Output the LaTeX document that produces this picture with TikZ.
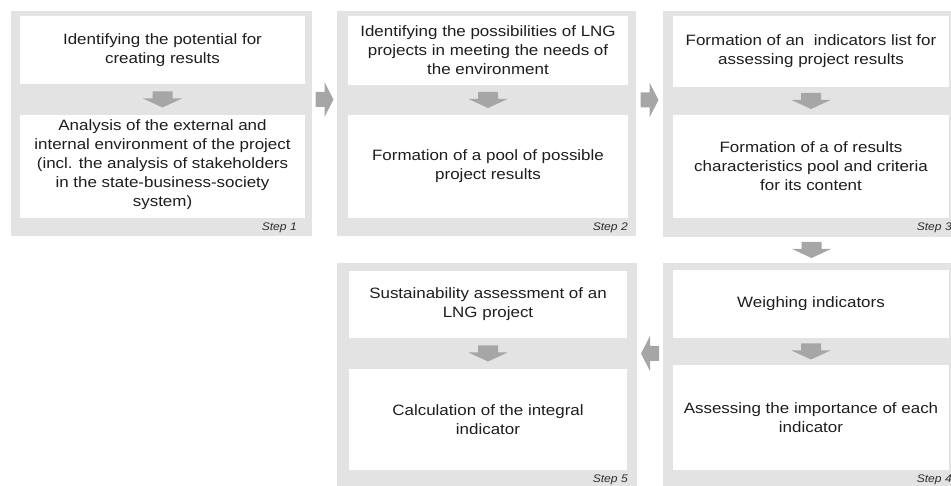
\documentclass[tikz,border=0pt]{standalone}
\usepackage{fontspec}
\setmainfont{Liberation Sans}
\usetikzlibrary{calc}
\definecolor{bandgray}{HTML}{E3E3E3}
\definecolor{arrowgray}{HTML}{A6A6A6}
\definecolor{inktext}{HTML}{1E1E1E}
\definecolor{labelgray}{HTML}{2E2E2E}

\begin{document}
\begin{tikzpicture}[x=1pt,y=-1pt,
  stage/.style={fill=bandgray, inner sep=0pt, outer sep=0pt, anchor=north west},
  card/.style={fill=white, inner sep=0pt, outer sep=0pt, anchor=north west},
  cardtext/.style={align=center, text=inktext, inner sep=0pt, xscale=1.13,
    transform shape, font=\fontsize{15}{19}\selectfont},
  steplabel/.style={anchor=base east, inner sep=0pt, xscale=1.1, transform shape,
    text=labelgray, font=\fontsize{11}{13}\selectfont\itshape},
  pics/dnarrow/.style={code={\fill[arrowgray] (-10,-8) -- (10,-8) -- (10,-1) -- (19.5,-1)
      -- (0,8) -- (-19.5,-1) -- (-10,-1) -- cycle;}},
  pics/rtarrow/.style={code={\fill[arrowgray] (-9,-7.5) -- (0,-7.5) -- (0,-17.5) -- (9,0)
      -- (0,17.5) -- (0,7.5) -- (-9,7.5) -- cycle;}},
  pics/ltarrow/.style={code={\fill[arrowgray] (9,-7.5) -- (0,-7.5) -- (0,-17.5) -- (-9,0)
      -- (0,17.5) -- (0,7.5) -- (9,7.5) -- cycle;}},
]
\useasboundingbox (0,0) rectangle (951,486);
\clip (0,0) rectangle (951,486);

% Step frames
\node[stage, minimum width=301pt, minimum height=225pt] (s1) at (11,11) {};
\node[stage, minimum width=299pt, minimum height=225pt] (s2) at (337,11) {};
\node[stage, minimum width=297pt, minimum height=226pt] (s3) at (663,11) {};
\node[stage, minimum width=297pt, minimum height=230pt] (s4) at (663,263) {};
\node[stage, minimum width=300pt, minimum height=230pt] (s5) at (337,263) {};

% White cards inside each step
\node[card, minimum width=285pt, minimum height=68pt]  (s1a) at (20,16) {};
\node[card, minimum width=285pt, minimum height=103pt] (s1b) at (20,115) {};
\node[card, minimum width=280pt, minimum height=69pt]  (s2a) at (348,16) {};
\node[card, minimum width=280pt, minimum height=103pt] (s2b) at (348,115) {};
\node[card, minimum width=276pt, minimum height=71pt]  (s3a) at (673,16) {};
\node[card, minimum width=276pt, minimum height=103pt] (s3b) at (673,115) {};
\node[card, minimum width=276pt, minimum height=68pt]  (s4a) at (673,270) {};
\node[card, minimum width=276pt, minimum height=105pt] (s4b) at (673,365) {};
\node[card, minimum width=278pt, minimum height=67pt]  (s5a) at (349,271) {};
\node[card, minimum width=278pt, minimum height=101pt] (s5b) at (349,369) {};

% Card texts
\node[cardtext] (t1a) at (s1a.center) {Identifying the potential for\\creating results};
\node[cardtext] (t1b) at ([yshift=2pt]s1b.center) {Analysis of the external and\\internal environment of the project\\(incl. the analysis of stakeholders\\in the state-business-society\\system)};
\node[cardtext] (t2a) at (s2a.center) {Identifying the possibilities of LNG\\projects in meeting the needs of\\the environment};
\node[cardtext] (t2b) at (s2b.center) {Formation of a pool of possible\\project results};
\node[cardtext] (t3a) at (s3a.center) {Formation of an~ indicators list for\\assessing project results};
\node[cardtext] (t3b) at (s3b.center) {Formation of a of results\\characteristics pool and criteria\\for its content};
\node[cardtext] (t4a) at (s4a.center) {Weighing indicators};
\node[cardtext] (t4b) at (s4b.center) {Assessing the importance of each\\indicator};
\node[cardtext] (t5a) at (s5a.center) {Sustainability assessment of an\\LNG project};
\node[cardtext] (t5b) at (s5b.center) {Calculation of the integral\\indicator};

% Step labels
\node[steplabel] (l1) at (297,231) {Step 1};
\node[steplabel] (l2) at (628,231) {Step 2};
\node[steplabel] (l3) at (952,231) {Step 3};
\node[steplabel] (l4) at (952,482) {Step 4};
\node[steplabel] (l5) at (628,482) {Step 5};

% Arrows between the two cards of a step
\coordinate (b1) at ($(s1a.south)!0.5!(s1b.north)$);
\coordinate (b2) at ($(s2a.south)!0.5!(s2b.north)$);
\coordinate (b3) at ($(s3a.south)!0.5!(s3b.north)$);
\coordinate (b4) at ($(s4a.south)!0.5!(s4b.north)$);
\coordinate (b5) at ($(s5a.south)!0.5!(s5b.north)$);
\foreach \b in {b1,b2,b3,b4,b5} { \pic at (\b) {dnarrow}; }

% Arrows between steps
\coordinate (g12) at ($(s1.east)!0.5!(s2.west)$);
\coordinate (g23) at ($(s2.east)!0.5!(s3.west)$);
\coordinate (g34) at ($(s3.south)!0.5!(s4.north)$);
\coordinate (g45) at ($(s5.east)!0.5!(s4.west)$);
\pic at (g12 |- b1) {rtarrow};
\pic at (g23 |- b2) {rtarrow};
\pic at (g34) {dnarrow};
\pic at (g45 |- b5) {ltarrow};
\end{tikzpicture}
\end{document}
